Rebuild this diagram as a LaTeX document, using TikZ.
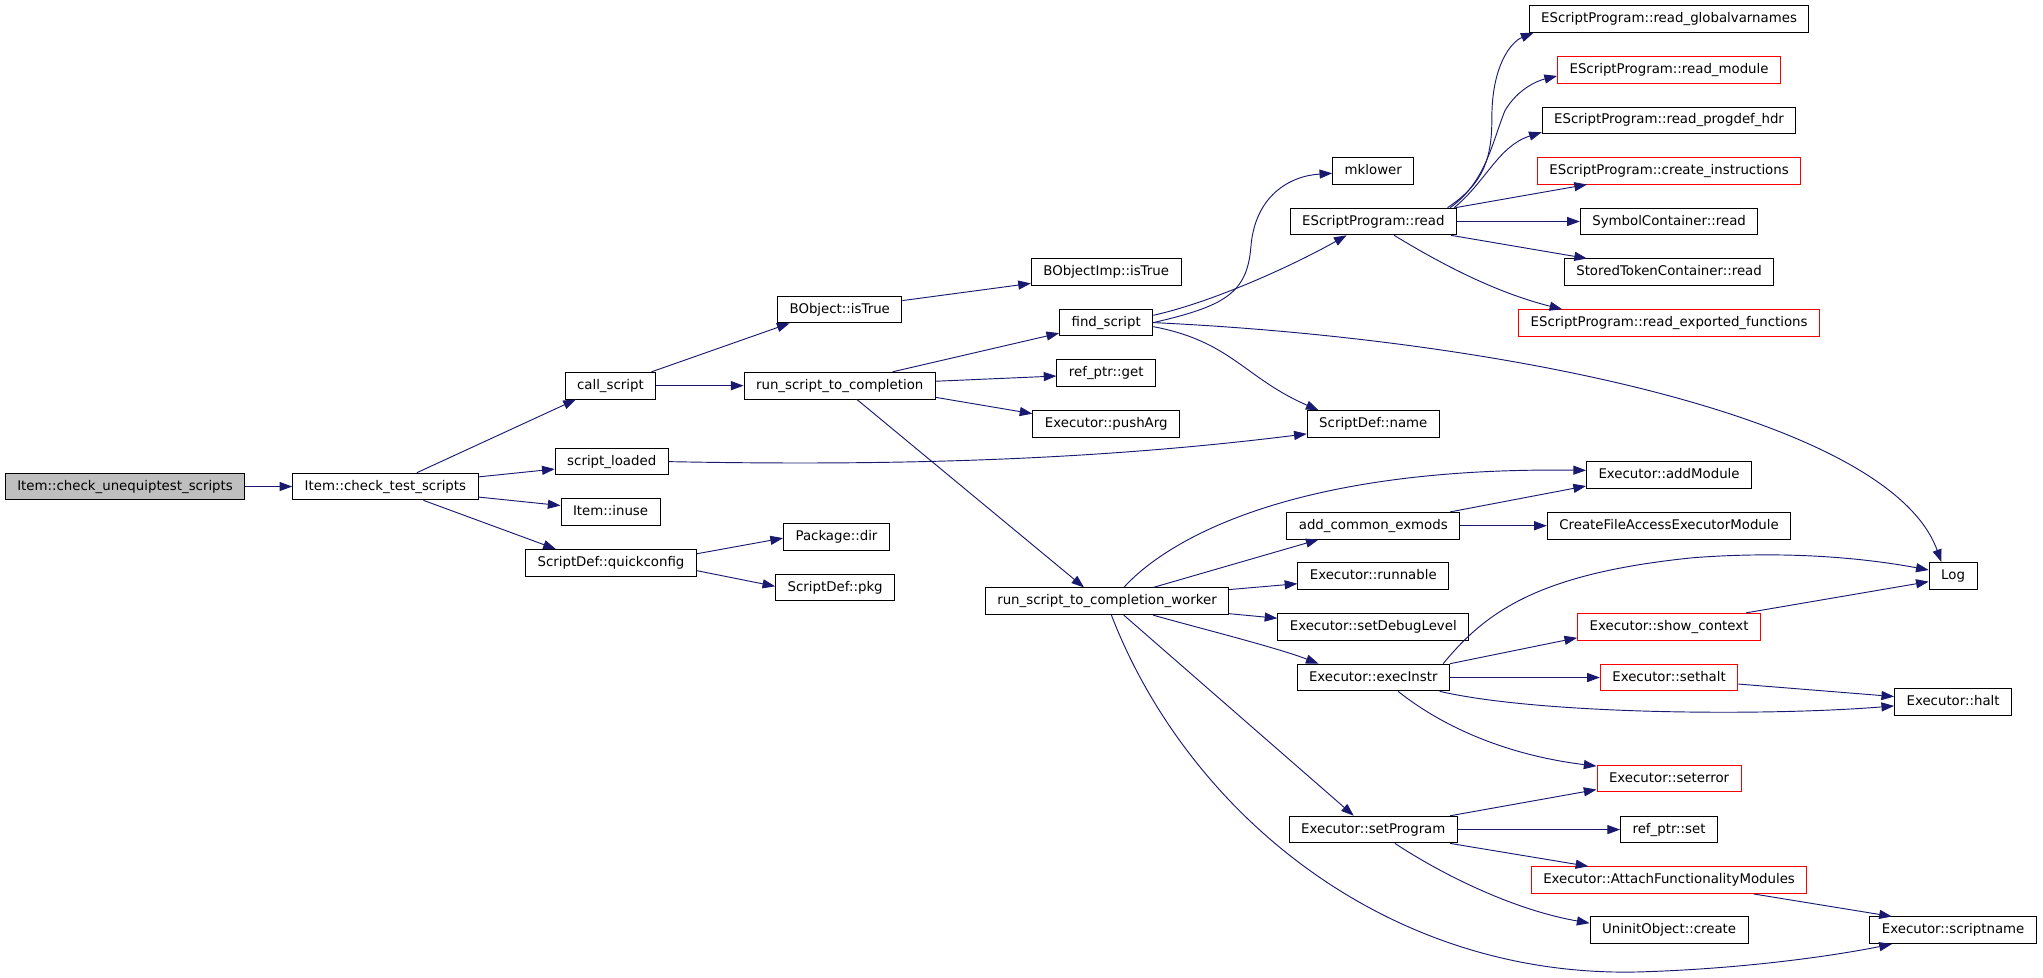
\documentclass[tikz,border=0pt]{standalone}
\usepackage{fontspec}
\setmainfont{DejaVu Sans}
\usetikzlibrary{arrows.meta}
\definecolor{edgec}{HTML}{191970}
\definecolor{rootfill}{HTML}{BFBFBF}
\begin{document}
\begin{tikzpicture}[x=0.9773pt,y=-0.9773pt,
  box/.style={draw=black, line width=0.75pt, fill=white, font=\fontsize{10}{12}\selectfont,
    inner xsep=9pt, inner ysep=0pt, minimum height=20pt, text height=7.6pt, text depth=2.2pt},
  redbox/.style={box, draw=red},
  rootbox/.style={box, fill=rootfill},
  e/.style={draw=edgec, line width=0.7pt, -{Triangle[length=9.5pt,width=6.8pt]}}]
\useasboundingbox (0,0) rectangle (1568,750);
% rank 0-1
\node[rootbox] (cu) at (96,373.4) {Item::check\_unequiptest\_scripts};
\node[box] (ct) at (295.8,373.4) {Item::check\_test\_scripts};
% rank 2
\node[box] (cs) at (468.5,296) {call\_script};
\node[box] (sl) at (469.5,354.3) {script\_loaded};
\node[box] (iu) at (468.6,393) {Item::inuse};
\node[box] (qc) at (468.9,432) {ScriptDef::quickconfig};
% rank 3
\node[box] (bo) at (644.5,237.5) {BObject::isTrue};
\node[box] (rs) at (644.5,296) {run\_script\_to\_completion};
\node[box] (pd) at (642,412) {Package::dir};
\node[box] (pk) at (641,451) {ScriptDef::pkg};
% rank 4
\node[box] (bi) at (849,209) {BObjectImp::isTrue};
\node[box] (fs) at (849,247.5) {find\_script};
\node[box] (rg) at (849,286.5) {ref\_ptr::get};
\node[box] (pa) at (849,325.6) {Executor::pushArg};
\node[box] (wk) at (849.6,461.5) {run\_script\_to\_completion\_worker};
% rank 5
\node[box] (mk) at (1054,131) {mklower};
\node[box] (er) at (1054,170) {EScriptProgram::read};
\node[box] (sn) at (1054,325.5) {ScriptDef::name};
\node[box] (ac) at (1054,403.5) {add\_common\_exmods};
\node[box] (rn) at (1054,442) {Executor::runnable};
\node[box] (dl) at (1054,481) {Executor::setDebugLevel};
\node[box] (ei) at (1054,520) {Executor::execInstr};
\node[box] (sp) at (1054,636.7) {Executor::setProgram};
% rank 6
\node[box] (gv) at (1281,14.5) {EScriptProgram::read\_globalvarnames};
\node[redbox] (rm) at (1281,53.7) {EScriptProgram::read\_module};
\node[box] (ph) at (1281,92.4) {EScriptProgram::read\_progdef\_hdr};
\node[redbox] (ci) at (1281,131) {EScriptProgram::create\_instructions};
\node[box] (sc) at (1281,170) {SymbolContainer::read};
\node[box] (st) at (1281,209) {StoredTokenContainer::read};
\node[redbox] (ef) at (1281,248) {EScriptProgram::read\_exported\_functions};
\node[box] (am) at (1281,364.5) {Executor::addModule};
\node[box] (cf) at (1281,403.5) {CreateFileAccessExecutorModule};
\node[redbox] (sx) at (1281,481) {Executor::show\_context};
\node[redbox] (sh) at (1281,520) {Executor::sethalt};
\node[redbox] (se) at (1281,597.5) {Executor::seterror};
\node[box] (rp) at (1281,636.7) {ref\_ptr::set};
\node[redbox] (at) at (1281,675.5) {Executor::AttachFunctionalityModules};
\node[box] (uo) at (1281,714) {UninitObject::create};
% rank 7
\node[box] (lg) at (1499,442) {Log};
\node[box] (ha) at (1499,539) {Executor::halt};
\node[box] (sv) at (1499,714) {Executor::scriptname};
% edges
\draw[e] (cu.east) -- (ct.west);
\draw[e] (ct.north -| 320,0) -- (cs.south -| 442,0);
\draw[e] (ct.east |- 0,366) -- (sl.west |- 0,360);
\draw[e] (ct.east |- 0,381.5) -- (iu.west |- 0,388);
\draw[e] (ct.south -| 325,0) -- (qc.north -| 426.6,0);
\draw[e] (cs.north -| 500,0) -- (bo.south -| 606,0);
\draw[e] (cs.east) -- (rs.west);
\draw[e] (bo.east |- 0,230.7) -- (bi.west |- 0,217.5);
\draw[e] (rs.north -| 685,0) -- (fs.west |- 0,255.7);
\draw[e] (rs.east |- 0,292.6) -- (rg.west |- 0,288.6);
\draw[e] (rs.east |- 0,305) -- (pa.west |- 0,317.5);
\draw[e] (rs.south -| 657.7,0) -- (wk.north -| 832,0);
\draw[e] (fs.east |- 0,247.6) .. controls (940,235) and (957,225) .. (960,190) .. controls (963,150) and (990,135) .. (mk.west |- 0,133);
\draw[e] (fs.east |- 0,242) .. controls (930,232) and (990,205) .. (er.south -| 1033.5,0);
\draw[e] (fs.east |- 0,250.7) .. controls (945,262) and (955,290) .. (sn.north -| 1012,0);
\draw[e] (fs.east |- 0,247.6) .. controls (1150,260) and (1450,320) .. (lg.north -| 1490,0);
\draw[e] (sl.east) .. controls (700,358) and (850,352) .. (sn.west |- 0,333);
\draw[e] (qc.east |- 0,425) -- (pd.west |- 0,413);
\draw[e] (qc.east |- 0,438) -- (pk.west |- 0,450);
% EScriptProgram::read
\draw[e] (er.north -| 1111,0) .. controls (1140,140) and (1145,120) .. (1145,90) .. controls (1145,50) and (1160,32) .. (gv.south -| 1177,0);
\draw[e] (er.north -| 1113,0) .. controls (1140,140) and (1145,110) .. (1155,85) .. controls (1165,68) and (1180,62) .. (rm.west |- 0,58.3);
\draw[e] (er.north -| 1116,0) .. controls (1140,140) and (1150,112) .. (ph.west |- 0,101.5);
\draw[e] (er.north -| 1117,0) -- (ci.south -| 1218,0);
\draw[e] (er.east) -- (sc.west);
\draw[e] (er.south -| 1113.6,0) -- (st.north -| 1218,0);
\draw[e] (er.south -| 1070,0) .. controls (1110,205) and (1150,225) .. (ef.north -| 1199,0);
% worker
\draw[e] (wk.north -| 862.5,0) .. controls (895,415) and (990,358) .. (am.west |- 0,361);
\draw[e] (wk.north -| 885,0) -- (ac.south -| 1012,0);
\draw[e] (wk.east |- 0,452.5) -- (rn.west |- 0,448);
\draw[e] (wk.east |- 0,471) -- (dl.west |- 0,474.5);
\draw[e] (wk.south -| 885,0) .. controls (920,482) and (980,497) .. (ei.north -| 1012,0);
\draw[e] (wk.south -| 862.5,0) -- (sp.north -| 1039,0);
\draw[e] (wk.south -| 853,0) .. controls (910,620) and (1060,750) .. (1256,746) .. controls (1330,744) and (1400,735) .. (sv.south -| 1452,0);
\draw[e] (ac.north -| 1113,0) -- (am.west |- 0,373);
\draw[e] (ac.east) -- (cf.west);
% execInstr
\draw[e] (ei.north -| 1107.6,0) .. controls (1140,470) and (1180,440) .. (1300,428) .. controls (1380,422) and (1440,430) .. (lg.west |- 0,437.5);
\draw[e] (ei.north east) -- (sx.west |- 0,489.5);
\draw[e] (ei.east) -- (sh.west);
\draw[e] (ei.south -| 1105,0) .. controls (1180,548) and (1350,550) .. (ha.west |- 0,541.8);
\draw[e] (ei.south -| 1073,0) .. controls (1110,560) and (1160,580) .. (se.west |- 0,588);
\draw[e] (sx.north -| 1340,0) -- (lg.west |- 0,446.4);
\draw[e] (sh.east |- 0,525) -- (ha.west |- 0,534.6);
% setProgram
\draw[e] (sp.north -| 1113,0) -- (se.west |- 0,606);
\draw[e] (sp.east) -- (rp.west);
\draw[e] (sp.south -| 1113,0) -- (at.north -| 1219,0);
\draw[e] (sp.south -| 1070.6,0) .. controls (1105,670) and (1160,698) .. (uo.west |- 0,708.5);
\draw[e] (at.south -| 1346,0) -- (sv.north -| 1452,0);
\end{tikzpicture}
\end{document}
